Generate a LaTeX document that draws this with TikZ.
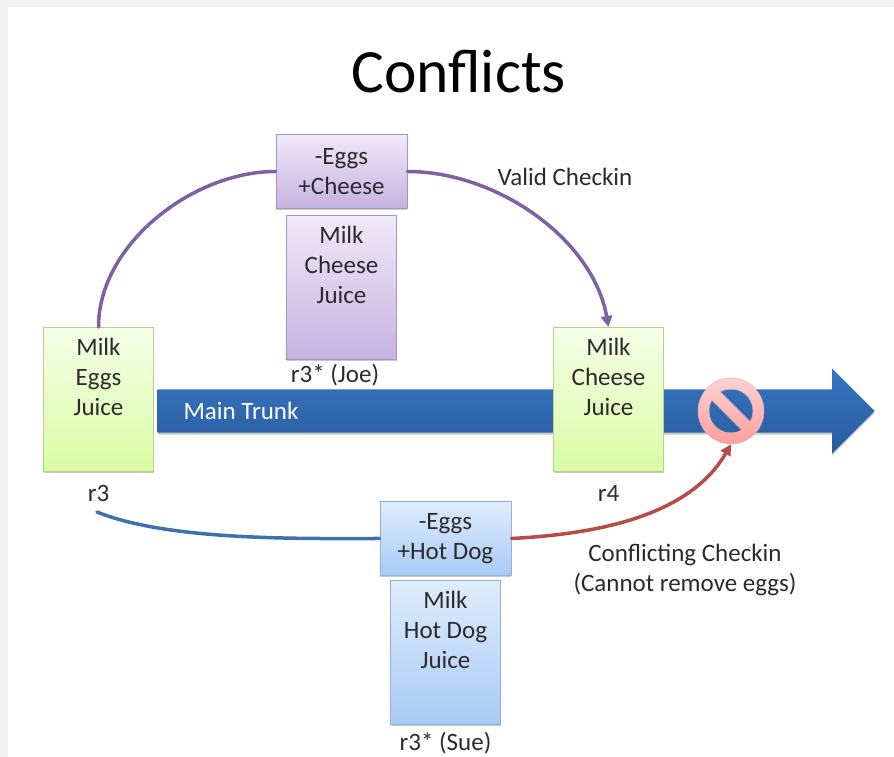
\documentclass[tikz,border=0pt]{standalone}
\usepackage{fontspec}
\setmainfont{Carlito}
\usepackage{xcolor}
\usetikzlibrary{shapes.arrows, arrows.meta, positioning, shadows}
\definecolor{pagegray}{HTML}{F1F1F1}
\definecolor{inktext}{HTML}{2B2B2B}
\definecolor{joeline}{HTML}{7F60A6}
\definecolor{sueline}{HTML}{3F70B2}
\definecolor{redline}{HTML}{B94B47}
\definecolor{greentop}{HTML}{F6FFE8}
\definecolor{greenbot}{HTML}{DAFBA4}
\definecolor{greenedge}{HTML}{B9D08C}
\definecolor{purpletop}{HTML}{F0E9F9}
\definecolor{purplebot}{HTML}{C6B2E0}
\definecolor{purpleedge}{HTML}{A794C4}
\definecolor{bluetop}{HTML}{DFECFC}
\definecolor{bluebot}{HTML}{A8CAF5}
\definecolor{blueedge}{HTML}{8FB1DC}
\definecolor{trunktop}{HTML}{3775C2}
\definecolor{trunkbot}{HTML}{2A5B9E}

\begin{document}
\begin{tikzpicture}[
    x=1pt, y=1pt,
    node distance=6pt,
    softshadow/.style={drop shadow={shadow xshift=0pt, shadow yshift=-2pt, opacity=.35, fill=black!60}},
    boxtext/.style={font=\fontsize{25}{30}\selectfont, text=inktext, align=center},
    plainlabel/.style={boxtext, inner sep=0pt},
    revbox/.style={boxtext, softshadow, line width=1pt, minimum width=110pt, inner xsep=0pt, inner ysep=8pt, text height=80pt, text depth=48pt},
    deltabox/.style={boxtext, softshadow, line width=1pt, minimum width=131pt, minimum height=74pt, inner sep=0pt},
    greenfill/.style={draw=greenedge, top color=greentop, bottom color=greenbot},
    purplefill/.style={draw=purpleedge, top color=purpletop, bottom color=purplebot},
    bluefill/.style={draw=blueedge, top color=bluetop, bottom color=bluebot},
    curve/.style={line width=3.5pt, line cap=round},
    tip/.style={-{Triangle[length=11pt, width=11pt]}}
]
    % Page
    \fill[pagegray] (0,0) rectangle (894,757);
    \fill[white] (8,0) rectangle (894,750);
    \path[use as bounding box] (0,0) rectangle (894,757);
    \node[font=\fontsize{61.5}{70}\selectfont, text=black] (title) at (458.5,685) {Conflicts};

    % Main trunk
    \node[single arrow, anchor=tip, minimum width=85pt, minimum height=717pt, inner xsep=0pt, inner ysep=21.5pt,
          single arrow head extend=21pt, top color=trunktop, bottom color=trunkbot,
          softshadow] (trunk) at (875,346) {};
    \node[font=\fontsize{25}{30}\selectfont, text=white, inner sep=0pt] (trunklabel) at (241,346) {Main Trunk};

    % Revisions
    \node[revbox, greenfill] (rthree) at (98.5,357.5) {Milk\\Eggs\\Juice};
    \node[revbox, greenfill, right=399pt of rthree] (rfour) {Milk\\Cheese\\Juice};
    \node[plainlabel, below=13pt of rthree] (rthreelabel) {r3};
    \node[plainlabel, below=13pt of rfour] (rfourlabel) {r4};

    % Joe
    \node[revbox, purplefill] (joebox) at (341.5,469.5) {Milk\\Cheese\\Juice};
    \node[deltabox, purplefill, above=of joebox] (joedelta) {-Eggs\\+Cheese};
    \node[plainlabel] (joelabel) at (335,382) {r3* (Joe)};
    \node[plainlabel] (validlabel) at (565,580) {Valid Checkin};

    % Sue
    \node[revbox, bluefill] (suebox) at (445.5,104.5) {Milk\\Hot Dog\\Juice};
    \node[deltabox, bluefill, above=4pt of suebox] (suedelta) {-Eggs\\+Hot Dog};
    \node[plainlabel, below=7pt of suebox] (suelabel) {r3* (Sue)};
    \node[plainlabel] (conflictlabel) at (685,187) {Conflicting Checkin\\(Cannot remove eggs)};

    % No entry sign
    \node[circle, minimum size=66pt, inner sep=0pt] (nosign) at (731,346) {};
    \path[even odd rule, draw=red!40!black!30, top color=red!18, bottom color=red!38]
        (nosign) circle[radius=33pt]
        (nosign) ++(119.2:22pt) arc[start angle=119.2, end angle=-29.2, radius=22pt] -- cycle
        (nosign) ++(150.8:22pt) arc[start angle=150.8, end angle=299.2, radius=22pt] -- cycle;

    % Arrows
    \coordinate (bluestart) at (97,245);
    \draw[curve, joeline] (rthree.north) to[out=90, in=180, looseness=.9] (joedelta.west);
    \draw[curve, joeline, tip] (joedelta.east) to[out=0, in=100, looseness=.9] (rfour.north);
    \draw[curve, sueline] (bluestart) to[out=-22, in=180, looseness=.7] (suedelta.west);
    \draw[curve, redline, tip] (suedelta.east) to[out=3, in=-120, looseness=.9] (nosign.south);
\end{tikzpicture}
\end{document}
